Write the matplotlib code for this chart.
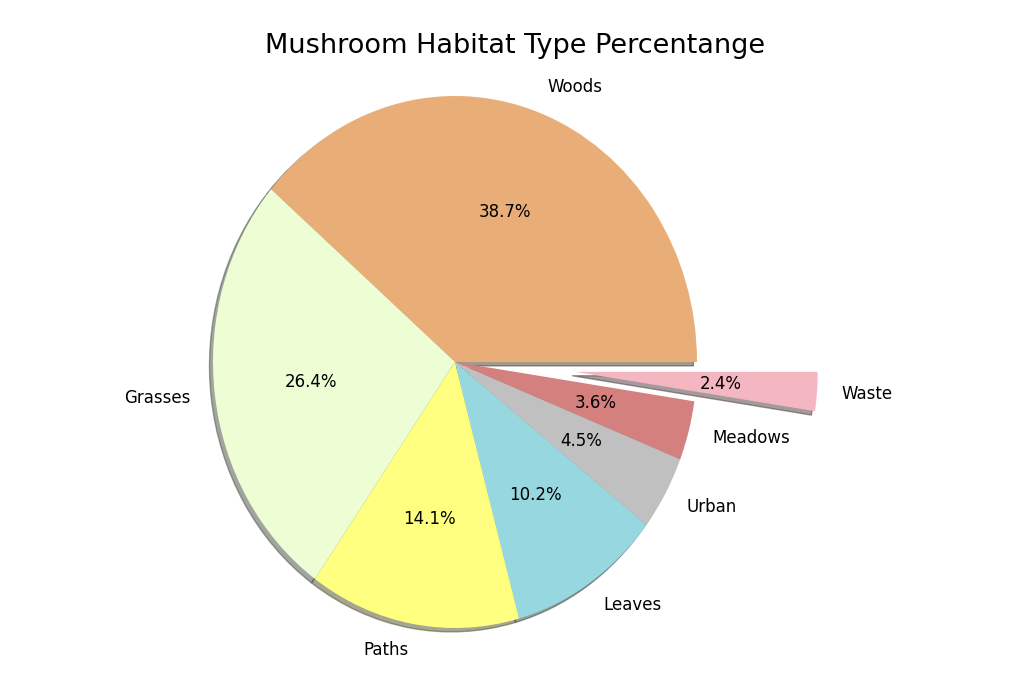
"""Pie chart of mushroom habitat types."""
import matplotlib
matplotlib.use('Agg')
import matplotlib.pyplot as plt

# Data (counts from the mushroom dataset)
habitats = ['Woods', 'Grasses', 'Paths', 'Leaves', 'Urban', 'Meadows', 'Waste']
counts = [3148, 2148, 1144, 832, 368, 292, 192]
colors = ['#e9ae78', '#edfdd4', '#ffff80', '#96d7e0', '#c0c0c0', '#d3807e', '#f4b6c0']
explode = [0, 0, 0, 0, 0, 0, 0.5]

W, H = 1020, 686
fig = plt.figure(figsize=(W / 100, H / 100), dpi=100)

# pie centre / radii in pixels (it is a bit stretched)
cx, cy, rx, ry = 455, 362, 242, 266
xlim = (-1.25, 1.75)
ylim = (-1.22, 1.12)
left = (cx + xlim[0] * rx) / W
width = (xlim[1] - xlim[0]) * rx / W
bottom = (H - (cy - ylim[0] * ry)) / H
height = (ylim[1] - ylim[0]) * ry / H
ax = fig.add_axes([left, bottom, width, height])

ax.pie(counts, labels=habitats, colors=colors, explode=explode,
       autopct='%1.1f%%', shadow={'ox': -0.0105, 'oy': -0.0105},
       textprops={'fontsize': 12})
ax.set_aspect('auto')
ax.set_xlim(*xlim)
ax.set_ylim(*ylim)
ax.set_title('Mushroom Habitat Type Percentange', fontsize=19.5, pad=8)

plt.savefig('out.png', dpi=100)
